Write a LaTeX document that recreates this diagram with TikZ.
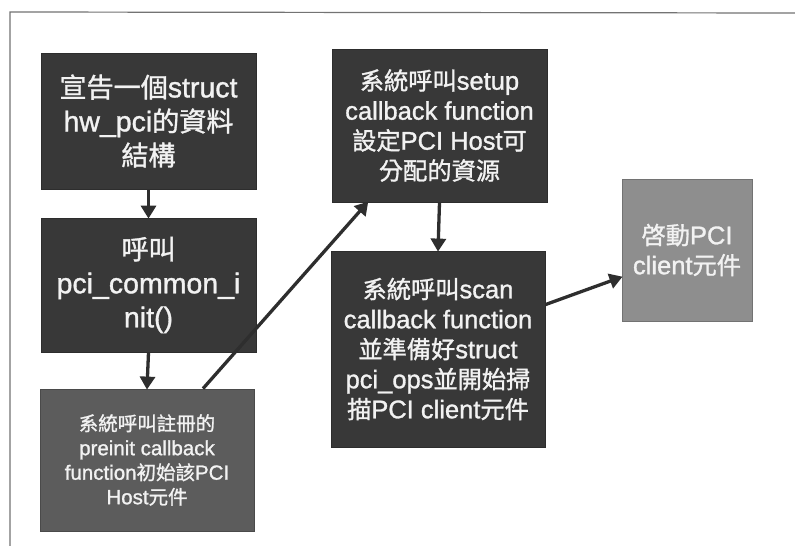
\documentclass[tikz,border=0pt]{standalone}
\usepackage{fontspec}
\setmainfont[FakeBold=1.2,BoldFont={Liberation Sans}]{Liberation Sans}
\newfontfamily\cjk[Scale=0.95,FakeBold=1.2]{Noto Sans CJK TC}
\newcommand\zh[1]{{\cjk #1}}
\usetikzlibrary{arrows.meta,calc}
\definecolor{darkbox}{HTML}{383838}
\definecolor{midbox}{HTML}{5C5C5C}
\definecolor{lightbox}{HTML}{8E8E8E}
\definecolor{arrowc}{HTML}{2E2E2E}
\definecolor{txt}{HTML}{F2F2F2}
\tikzset{
  box/.style={rectangle, draw=#1!80!black, line width=0.8pt, fill=#1, text=txt, align=center, inner sep=0pt},
  big/.style={font=\fontsize{28.5}{34}\selectfont},
  mid/.style={font=\fontsize{25.5}{30}\selectfont},
  small/.style={font=\fontsize{20.5}{24.5}\selectfont},
  conn/.style={draw=arrowc, line width=3.3pt, -{Triangle[length=13pt,width=15pt]}, shorten >=-1pt},
  frame/.style={draw=black!55, line width=1.2pt}
}
\begin{document}
\begin{tikzpicture}[x=1pt,y=-1pt]
\useasboundingbox (0,0) rectangle (795,546);
\fill[white] (0,0) rectangle (795,546);
\coordinate (f1) at (10,546);
\coordinate (f2) at (10,12);
\coordinate (f3) at (795,13);
\draw[frame] (f1) -- (f2) -- (f3);

\node[box=darkbox, big, minimum width=215pt, minimum height=136pt] (b1) at (148.5,121)
  {\zh{宣告一個}struct\\hw\_pci\zh{的資料}\\\zh{結構}};
\node[box=darkbox, big, minimum width=215pt, minimum height=134pt] (b2) at (148.5,285)
  {\zh{呼叫}\\pci\_common\_i\\nit()};
\node[box=midbox, small, minimum width=214pt, minimum height=142pt] (b3) at (147,460)
  {\zh{系統呼叫註冊的}\\preinit callback\\function\zh{初始該}PCI\\Host\zh{元件}};
\node[box=darkbox, mid, minimum width=215pt, minimum height=153pt] (b4) at (439.5,125.5)
  {\zh{系統呼叫}setup\\callback function\\\zh{設定}PCI Host\zh{可}\\\zh{分配的資源}};
\node[box=darkbox, mid, minimum width=214pt, minimum height=196pt] (b5) at (438,349)
  {\zh{系統呼叫}scan\\callback function\\\zh{並準備好}struct\\pci\_ops\zh{並開始掃}\\\zh{描}PCI client\zh{元件}};
\node[box=lightbox, mid, minimum width=130pt, minimum height=142pt] (b6) at (687,250)
  {\zh{啓動}PCI\\client\zh{元件}};

\draw[conn] (b1.south) -- (b2.north);
\draw[conn] (b2.south) -- (b3.north);
\draw[conn] ($(b3.north)+(56,0)$) -- ($(b4.south west)+(36,0)$);
\draw[conn] (b4.south) -- (b5.north);
\draw[conn] ($(b5.north east)+(0,54)$) -- ($(b6.west)+(0,27)$);
\end{tikzpicture}
\end{document}
